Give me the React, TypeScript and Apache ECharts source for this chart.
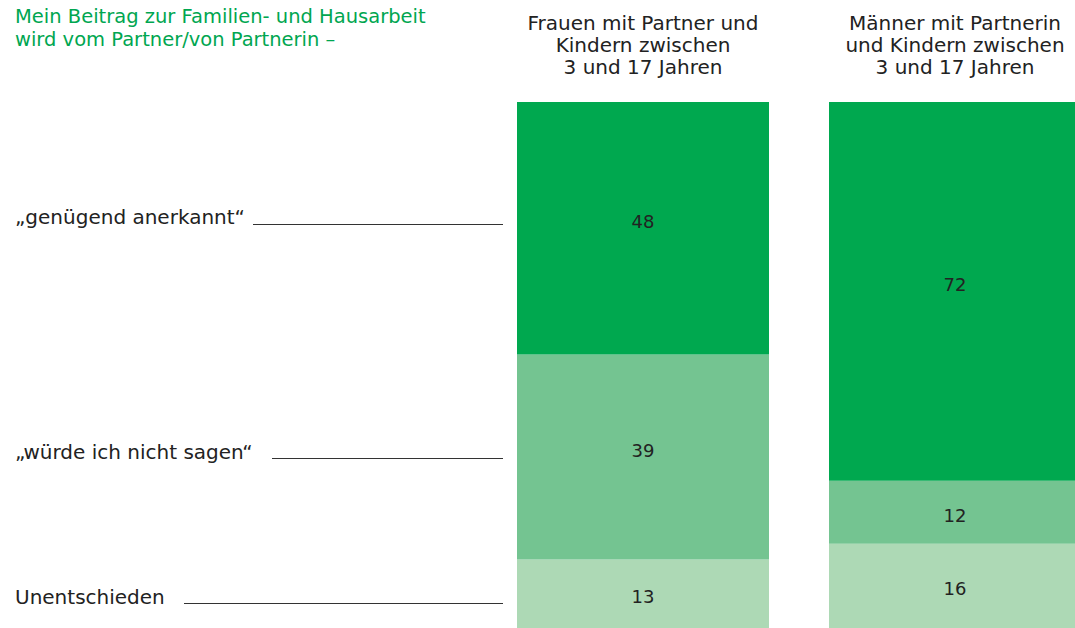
import React, { useEffect, useRef } from "react";
import * as echarts from "echarts";

const categories = [
  "Frauen mit Partner und\nKindern zwischen\n3 und 17 Jahren",
  "Männer mit Partnerin\nund Kindern zwischen\n3 und 17 Jahren",
];
const seriesNames = ["Unentschieden", "„würde ich nicht sagen“", "„genügend anerkannt“"];
const unentschieden = [13, 16];
const wuerdeNicht = [39, 12];
const genuegend = [48, 72];
const colors = ["#add9b5", "#74c491", "#00a84f"];

const FONT = "'DejaVu Sans', sans-serif";

export default function App() {
  const ref = useRef<HTMLDivElement>(null);
  useEffect(() => {
    document.body.style.margin = "0";
    const chart = echarts.init(ref.current!, null, { renderer: "svg" });
    const values = [unentschieden, wuerdeNicht, genuegend];
    const labelStyle = { fontFamily: FONT, fontSize: 20, fill: "#222" };
    const lineStyle = { stroke: "#333", lineWidth: 1.2 };
    chart.setOption({
      animation: false,
      grid: { left: 487, top: 102, width: 624, height: 526, outerBoundsMode: "none", containLabel: false },
      xAxis: {
        type: "category",
        position: "top",
        data: categories,
        axisLine: { show: false },
        axisTick: { show: false },
        axisLabel: {
          interval: 0,
          margin: 24,
          fontFamily: FONT,
          fontSize: 20,
          lineHeight: 22,
          color: "#222",
          align: "center",
        },
      },
      yAxis: {
        type: "value",
        min: 0,
        max: 100,
        show: false,
        splitLine: { show: false },
      },
      series: values.map((v, i) => ({
        name: seriesNames[i],
        type: "bar",
        stack: "total",
        data: v.map((val) => ({
          value: val,
          label: { offset: [0, val > 30 ? -7 : 3] },
        })),
        barWidth: 252,
        itemStyle: { color: colors[i] },
        label: {
          show: true,
          position: "inside",
          fontFamily: FONT,
          fontSize: 18,
          color: "#222",
        },
      })),
      graphic: [
        {
          type: "text",
          left: 15,
          top: 6,
          style: {
            text: "Mein Beitrag zur Familien- und Hausarbeit",
            fontFamily: FONT,
            fontSize: 19.5,
            fill: "#00a650",
          },
        },
        {
          type: "text",
          left: 15,
          top: 29,
          style: {
            text: "wird vom Partner/von Partnerin –",
            fontFamily: FONT,
            fontSize: 19.5,
            fill: "#00a650",
          },
        },
        { type: "text", x: 15, y: 207, style: { ...labelStyle, text: seriesNames[2] } },
        { type: "line", shape: { x1: 253, y1: 224.5, x2: 503, y2: 224.5 }, style: lineStyle },
        { type: "text", x: 15, y: 442, style: { ...labelStyle, text: seriesNames[1] } },
        { type: "line", shape: { x1: 272, y1: 458.5, x2: 503, y2: 458.5 }, style: lineStyle },
        { type: "text", x: 15, y: 587, style: { ...labelStyle, text: seriesNames[0] } },
        { type: "line", shape: { x1: 184, y1: 603.5, x2: 503, y2: 603.5 }, style: lineStyle },
      ],
    });
    return () => chart.dispose();
  }, []);
  return (
    <div
      ref={ref}
      style={{ position: "absolute", left: 0, top: 0, width: 1075, height: 628, background: "#fff" }}
    />
  );
}
